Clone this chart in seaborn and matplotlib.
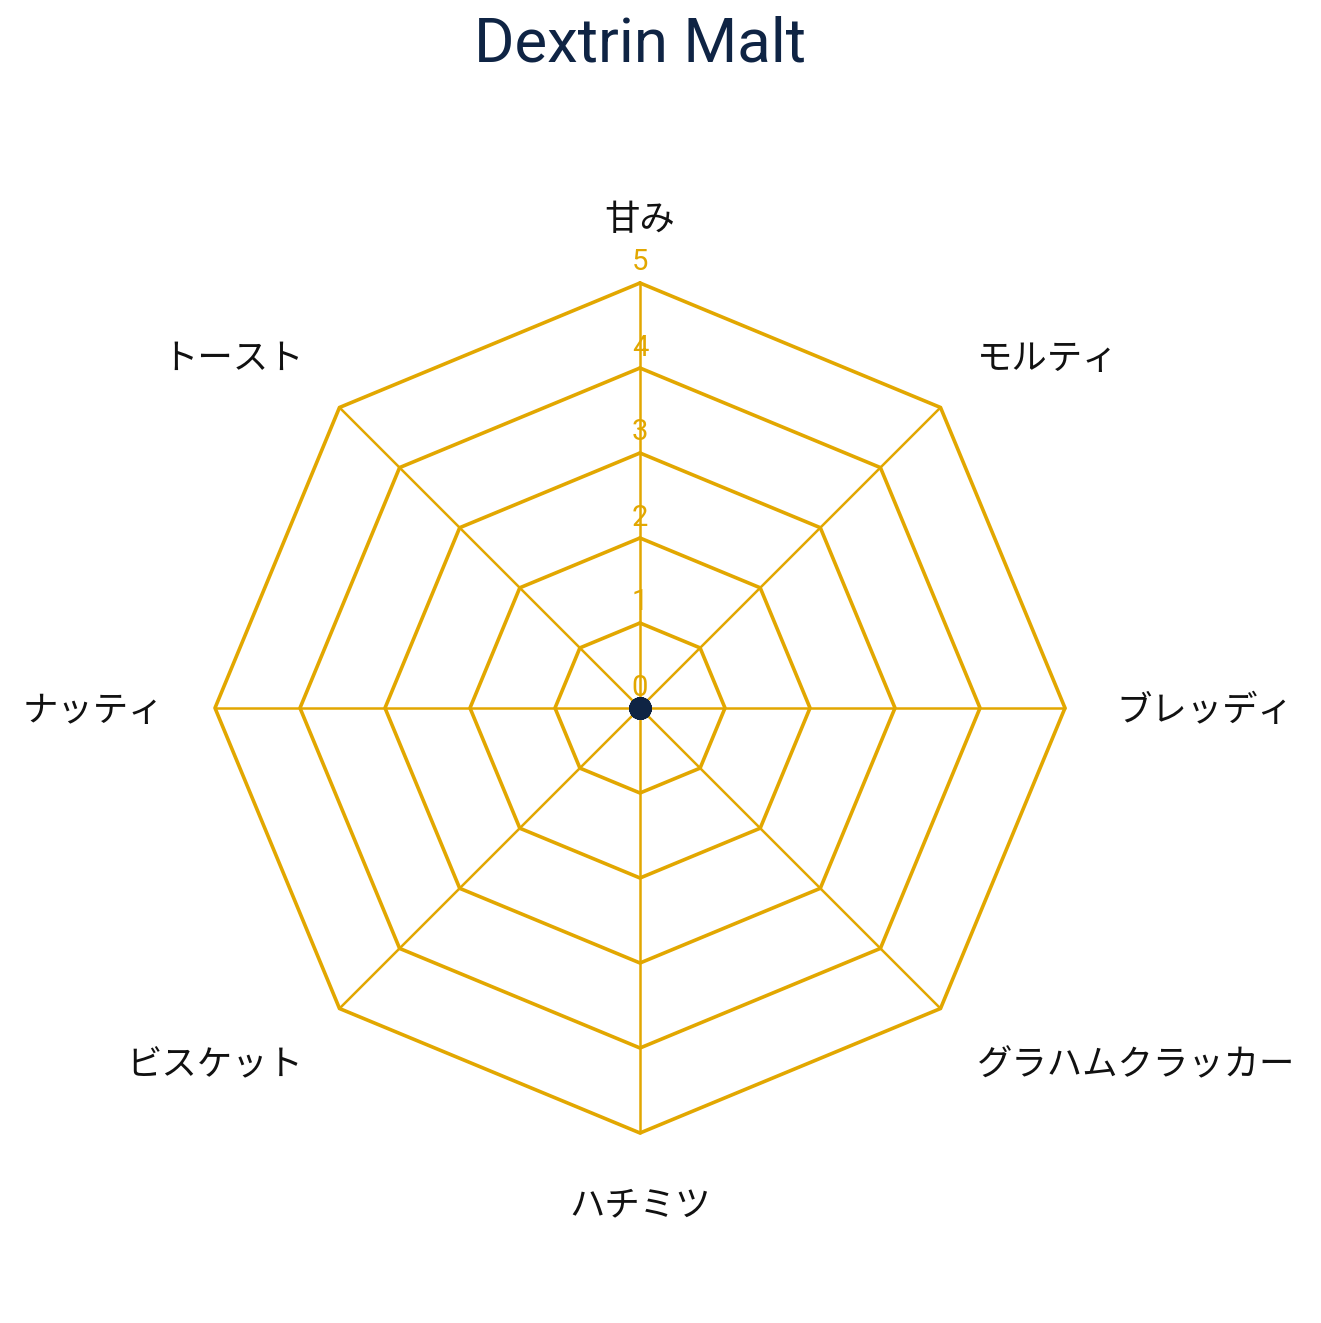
import numpy as np
import pandas as pd
import matplotlib
matplotlib.use("Agg")
import matplotlib.pyplot as plt
import seaborn as sns

title = "Dextrin Malt"
categories = ["甘み", "モルティ", "ブレッディ", "グラハムクラッカー", "ハチミツ", "ビスケット", "ナッティ", "トースト"]
values = [0, 0, 0, 0, 0, 0, 0, 0]
rings = [1, 2, 3, 4, 5]
tick_values = [0, 1, 2, 3, 4, 5]
tick_labels = ["0", "1", "2", "3", "4", "5"]

sns.set_theme(style="white")
plt.rcParams["font.family"] = ["Noto Sans CJK JP", "DejaVu Sans"]

GRID = "#E2A700"
NAVY = "#0F2444"

W, H = 1321, 1323
fig = plt.figure(figsize=(W / 100, H / 100), dpi=100)
cx, cy, R = 640, 708, 425
ax = fig.add_axes([(cx - R) / W, (H - cy - R) / H, 2 * R / W, 2 * R / H], projection="polar")
ax.set_theta_zero_location("N")
ax.set_theta_direction(-1)
ax.set_ylim(0, 5)
ax.grid(False)
ax.spines["polar"].set_visible(False)
ax.set_xticks([])
ax.set_yticks([])
ax.set_facecolor("none")

n = len(categories)
angles = np.arange(n) * 2 * np.pi / n
closed = np.append(angles, angles[0])

# polygon rings
for r in rings:
    ax.plot(closed, [r] * (n + 1), color=GRID, lw=2.6, clip_on=False, zorder=1)
# spokes
for a in angles:
    ax.plot([a, a], [0, rings[-1]], color=GRID, lw=1.8, clip_on=False, zorder=1)

# tick labels along the top spoke
for v, lab in zip(tick_values, tick_labels):
    ax.annotate(lab, xy=(0, v), xytext=(0, 9), textcoords="offset points",
                ha="center", va="baseline", color=GRID, fontsize=21,
                family=["Roboto", "DejaVu Sans"], zorder=2)

# category labels
for a, lab in zip(angles, categories):
    s, c = np.sin(a), np.cos(a)
    ha = "left" if s > 0.1 else ("right" if s < -0.1 else "center")
    va = "bottom" if c > 0.1 else ("top" if c < -0.1 else "center")
    dy = -4.0 if c > 0.1 else -2.2
    ax.annotate(lab, xy=(a, 5.6), xytext=(0, dy), textcoords="offset points",
                ha=ha, va=va, fontsize=25.5, color="#111111", annotation_clip=False)

# data
df = pd.DataFrame({"angle": closed, "value": values + values[:1]})
ax.plot(df["angle"], df["value"], color=NAVY, lw=2.5, zorder=3)
ax.fill(df["angle"], df["value"], color=NAVY, alpha=0.25, zorder=3)
sns.scatterplot(data=df, x="angle", y="value", ax=ax, color=NAVY, s=260,
                edgecolor=NAVY, linewidth=0, zorder=4, legend=False)
ax.set_xlabel("")
ax.set_ylabel("")
ax.set_ylim(0, 5)

fig.text(cx / W, 1 - 45 / H, title, ha="center", va="center", fontsize=44.5,
         color=NAVY, family=["Roboto", "DejaVu Sans"])

fig.savefig("out.png", dpi=100, facecolor="white")
